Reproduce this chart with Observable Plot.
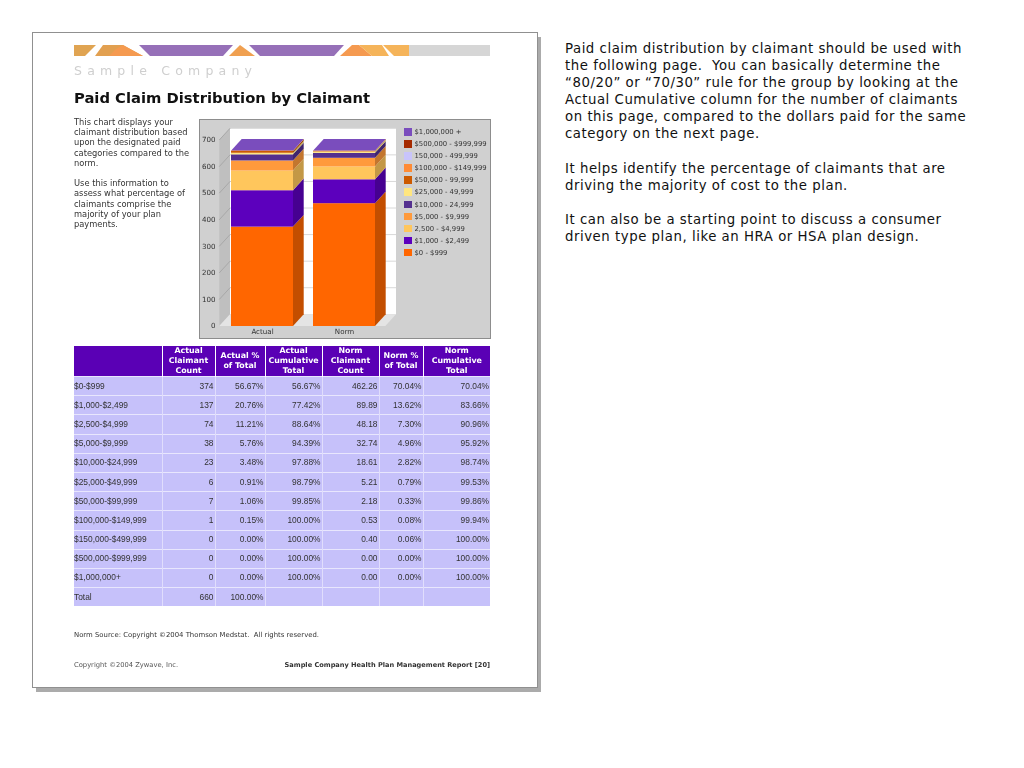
<!DOCTYPE html>
<html><head><meta charset="utf-8">
<script src="https://cdn.jsdelivr.net/npm/d3@7"></script>
<script src="https://cdn.jsdelivr.net/npm/@observablehq/plot@0.6"></script>
<style>
html,body{margin:0;padding:0;background:#fff;width:1024px;height:768px;overflow:hidden}
body{position:relative;font-family:"DejaVu Sans",sans-serif}
.abs{position:absolute}
#shadow{left:36px;top:37px;width:505px;height:655px;background:#ababab}
#page{left:32px;top:32px;width:504px;height:654px;background:#fff;border:1px solid #909090}
#soft{left:0;top:0;width:545px;height:700px;filter:blur(.35px)}
#company{left:74px;top:63px;font-size:12.5px;letter-spacing:5.2px;color:#cfcfcf;white-space:pre}
#title{left:74px;top:89px;font-size:14.75px;font-weight:700;color:#111;white-space:pre}
#intro{left:74px;top:117px;font-size:8.3px;line-height:10.2px;color:#333;white-space:pre}
#panel{left:199px;top:119px;width:292px;height:220px;background:#d0d0d0;box-sizing:border-box;border:1px solid #8d8d8d}
#plot{left:200px;top:118px}
#legend{left:404px;top:128px;font-size:6.85px;color:#333}
#legend div{height:12.1px;line-height:8px;white-space:pre;display:flex;gap:3px}
#legend i{display:block;width:7.5px;height:7.5px}
table{left:74px;top:346px;border-collapse:collapse;table-layout:fixed;width:416px;font:8.4px "Liberation Sans",sans-serif;color:#333}
th{background:#5a00b5;color:#fff;font:700 7.9px/9.7px "DejaVu Sans",sans-serif;height:30px;padding:0;border-right:1px solid #fff;text-align:center}
td{background:#c6c1fa;height:17.2px;padding:0 1px 1px 0;border-top:1px solid #e8e6fd;border-right:1px solid #e0ddfc;text-align:right;box-sizing:content-box}
td:first-child{text-align:left}
th:last-child,td:last-child{border-right:0}
#source{left:74px;top:631px;font-size:6.9px;color:#333;white-space:pre}
#copy{left:74px;top:661px;font-size:6.75px;color:#555;white-space:pre}
#report{right:55px;top:661px;font-size:6.6px;font-weight:700;color:#333;white-space:pre}
#notes{left:565px;top:40px;font-size:13.3px;letter-spacing:.53px;line-height:17.1px;color:#111;white-space:pre}
</style></head><body>
<script>
// ---- chart data ----
const bars = ["Actual", "Norm"];
const bands = ["$0 - $999","$1,000 - $2,499","2,500 - $4,999","$5,000 - $9,999","$10,000 - 24,999","$25,000 - 49,999","$50,000 - 99,999","$100,000 - $149,999","150,000 - 499,999","$500,000 - $999,999","$1,000,000 +"];
const actualCounts = [374,137,74,38,23,6,7,1,0,0,0];
const normCounts = [462.26,89.89,48.18,32.74,18.61,5.21,2.18,0.53,0.40,0,0];
const bandColors = ["#ff6600","#5c00bd","#ffc65c","#ff9a3c","#54308f","#ffe680","#cc5a00","#ff8b33","#c8c4fb","#a52a00","#7a4dbd"];
const yTicks = [0,100,200,300,400,500,600,700];
// ---- table data ----
const columns = ["","Actual<br>Claimant<br>Count","Actual %<br>of Total","Actual<br>Cumulative<br>Total","Norm<br>Claimant<br>Count","Norm %<br>of Total","Norm<br>Cumulative<br>Total"];
const columnWidths = [88,53,50,57,57,44,67];
const rowLabels = ["$0-$999","$1,000-$2,499","$2,500-$4,999","$5,000-$9,999","$10,000-$24,999","$25,000-$49,999","$50,000-$99,999","$100,000-$149,999","$150,000-$499,999","$500,000-$999,999","$1,000,000+","Total"];
const actualCount = ["374","137","74","38","23","6","7","1","0","0","0","660"];
const actualPct = ["56.67%","20.76%","11.21%","5.76%","3.48%","0.91%","1.06%","0.15%","0.00%","0.00%","0.00%","100.00%"];
const actualCum = ["56.67%","77.42%","88.64%","94.39%","97.88%","98.79%","99.85%","100.00%","100.00%","100.00%","100.00%",""];
const normCount = ["462.26","89.89","48.18","32.74","18.61","5.21","2.18","0.53","0.40","0.00","0.00",""];
const normPct = ["70.04%","13.62%","7.30%","4.96%","2.82%","0.79%","0.33%","0.08%","0.06%","0.00%","0.00%",""];
const normCum = ["70.04%","83.66%","90.96%","95.92%","98.74%","99.53%","99.86%","99.94%","100.00%","100.00%","100.00%",""];
// ---- page text ----
const introText = "This chart displays your\nclaimant distribution based\nupon the designated paid\ncategories compared to the\nnorm.\n\nUse this information to\nassess what percentage of\nclaimants comprise the\nmajority of your plan\npayments.";
const notesText = "Paid claim distribution by claimant should be used with\nthe following page.  You can basically determine the\n“80/20” or “70/30” rule for the group by looking at the\nActual Cumulative column for the number of claimants\non this page, compared to the dollars paid for the same\ncategory on the next page.\n\nIt helps identify the percentage of claimants that are\ndriving the majority of cost to the plan.\n\nIt can also be a starting point to discuss a consumer\ndriven type plan, like an HRA or HSA plan design.";

function el(tag, parent, props) { const e = document.createElement(tag); Object.assign(e, props || {}); parent.appendChild(e); return e; }
el("div", document.body, {className:"abs", id:"shadow"});
el("div", document.body, {className:"abs", id:"page"});
const soft = el("div", document.body, {className:"abs", id:"soft"});

soft.insertAdjacentHTML("beforeend", `<svg class="abs" style="left:74px;top:45px" width="416" height="11" viewBox="0 0 416 11">
<rect x="335" width="81" height="11" fill="#d6d6d6"/>
<polygon points="0,0 22,0 11,11 0,11" fill="#e0a452"/>
<polygon points="29,0 49,0 69,11 21,11" fill="#e2a050"/>
<polygon points="42,4 49,0 69,11 35,11" fill="#f59a50"/>
<polygon points="65,0 159,0 149,11 76,11" fill="#9670b8"/>
<polygon points="166,0 181,11 155,11" fill="#f0a050"/>
<polygon points="175,0 270,0 260,11 186,11" fill="#9670b8"/>
<polygon points="278,0 285,0 298,11 266,11" fill="#f59a50"/>
<polygon points="285,0 308,0 315,11 298,11" fill="#f5b45a"/>
<polygon points="309,0 335,0 335,11 320,11" fill="#f5b45a"/></svg>`);
el("div", soft, {className:"abs", id:"company", textContent:"Sample Company"});
el("div", soft, {className:"abs", id:"title", textContent:"Paid Claim Distribution by Claimant"});
el("div", soft, {className:"abs", id:"intro", textContent:introText});
el("div", soft, {className:"abs", id:"panel"});

// ---- the chart ----
const stacked = bars.flatMap((bar, b) => bands.map((band, i) => ({bar, band, order:i, value:(b ? normCounts : actualCounts)[i]})));
const depthX = 10.7, depthY = 11.7;
const svgNS = "http://www.w3.org/2000/svg";
function poly(g, pts, fill, stroke) {
  const p = document.createElementNS(svgNS, "polygon");
  p.setAttribute("points", pts.map(d => d.join(",")).join(" "));
  p.setAttribute("fill", fill);
  if (stroke) p.setAttribute("stroke", stroke);
  g.appendChild(p);
}
function lineEl(g, a, b, stroke) {
  const l = document.createElementNS(svgNS, "line");
  l.setAttribute("x1", a[0]); l.setAttribute("y1", a[1]);
  l.setAttribute("x2", b[0]); l.setAttribute("y2", b[1]);
  l.setAttribute("stroke", stroke); g.appendChild(l);
}
// the 3-D box behind the bars, placed by the chart's own scales
function walls(index, scales, values, dim) {
  const g = document.createElementNS(svgNS, "g");
  const y0 = scales.y(0), yT = scales.y(700);
  const xL = dim.marginLeft, xR = xL + 166 - depthX;
  poly(g, [[xL-depthX, yT],[xL, yT-depthY],[xL, y0-depthY],[xL-depthX, y0]], "#bfbfbf");
  poly(g, [[xL, yT-depthY],[xR+depthX, yT-depthY],[xR+depthX, y0-depthY],[xL, y0-depthY]], "#fff");
  poly(g, [[xL-depthX, y0],[xL, y0-depthY],[xR+depthX, y0-depthY],[xR, y0]], "#e4e4e4");
  for (const t of yTicks) {
    const y = scales.y(t);
    if (t > 0) {
      lineEl(g, [xL, y-depthY], [xR+depthX, y-depthY], "#d8d8d8");
      lineEl(g, [xL-depthX, y], [xL, y-depthY], "#a8a8a8");
    }
  }
  return g;
}
// side and top faces of every stacked segment
function sideFaces(index, scales, values, dim, ctx, next) {
  const g = document.createElementNS(svgNS, "g");
  const bw = scales.x.bandwidth();
  for (const i of index) {
    const x = values.x[i] + bw, y1 = values.y1[i], y2 = values.y2[i];
    const c = d3.color(values.fill[i]).darker(0.75).formatHex();
    if (Math.abs(y1 - y2) > 0) poly(g, [[x,y1],[x+depthX,y1-depthY],[x+depthX,y2-depthY],[x,y2]], c);
  }
  for (const bar of scales.x.domain()) {
    const ii = Array.from(index).filter(i => stacked[i].bar === bar && stacked[i].value > 0);
    const top = d3.min(ii, i => Math.min(values.y1[i], values.y2[i]));
    const x = scales.x(bar);
    poly(g, [[x,top],[x+depthX,top-depthY],[x+bw+depthX,top-depthY],[x+bw,top]], bandColors[bandColors.length-1]);
  }
  return g;
}
const stackOpts = Plot.stackY({x:"bar", y:"value", fill:"band", order:"order"});
const chart = Plot.plot({
  width:290, height:221,
  marginLeft:30, marginRight:114.7, marginTop:22, marginBottom:13,
  style:{background:"transparent", fontFamily:"'DejaVu Sans',sans-serif", fontSize:"7.1px", color:"#333"},
  x:{type:"band", domain:bars, paddingInner:0.244, paddingOuter:0, axis:null},
  y:{domain:[0,700], ticks:yTicks, axis:null},
  color:{domain:bands, range:bandColors},
  marks:[
    walls,
    Plot.barY(stacked, {...stackOpts, render: sideFaces}),
    Plot.barY(stacked, stackOpts),
    Plot.axisY({ticks:yTicks, tickSize:0, tickPadding:15, label:null, fill:"#333", dy:-0.5}),
    Plot.axisX({tickSize:0, tickPadding:2, label:null, fill:"#333"})
  ]
});
chart.classList.add("abs"); chart.id = "plot";
soft.appendChild(chart);

const legend = el("div", soft, {className:"abs", id:"legend"});
bands.map((b, i) => i).reverse().forEach(i => {
  const row = el("div", legend);
  el("i", row).style.background = bandColors[i];
  el("span", row, {textContent:bands[i]});
});

// ---- the table ----
const table = el("table", soft, {className:"abs"});
const cg = el("colgroup", table);
columnWidths.forEach(w => { el("col", cg).style.width = w + "px"; });
const hr = el("tr", el("thead", table));
columns.forEach(c => el("th", hr, {innerHTML:c}));
const tb = el("tbody", table);
rowLabels.forEach((r, i) => {
  const tr = el("tr", tb);
  [r, actualCount[i], actualPct[i], actualCum[i], normCount[i], normPct[i], normCum[i]].forEach(v => el("td", tr, {textContent:v}));
});

el("div", soft, {className:"abs", id:"source", textContent:"Norm Source: Copyright ©2004 Thomson Medstat.  All rights reserved."});
el("div", soft, {className:"abs", id:"copy", textContent:"Copyright ©2004 Zywave, Inc."});
el("div", soft, {className:"abs", id:"report", textContent:"Sample Company Health Plan Management Report [20]"});
el("div", document.body, {className:"abs", id:"notes", textContent:notesText});
</script>
</body></html>
